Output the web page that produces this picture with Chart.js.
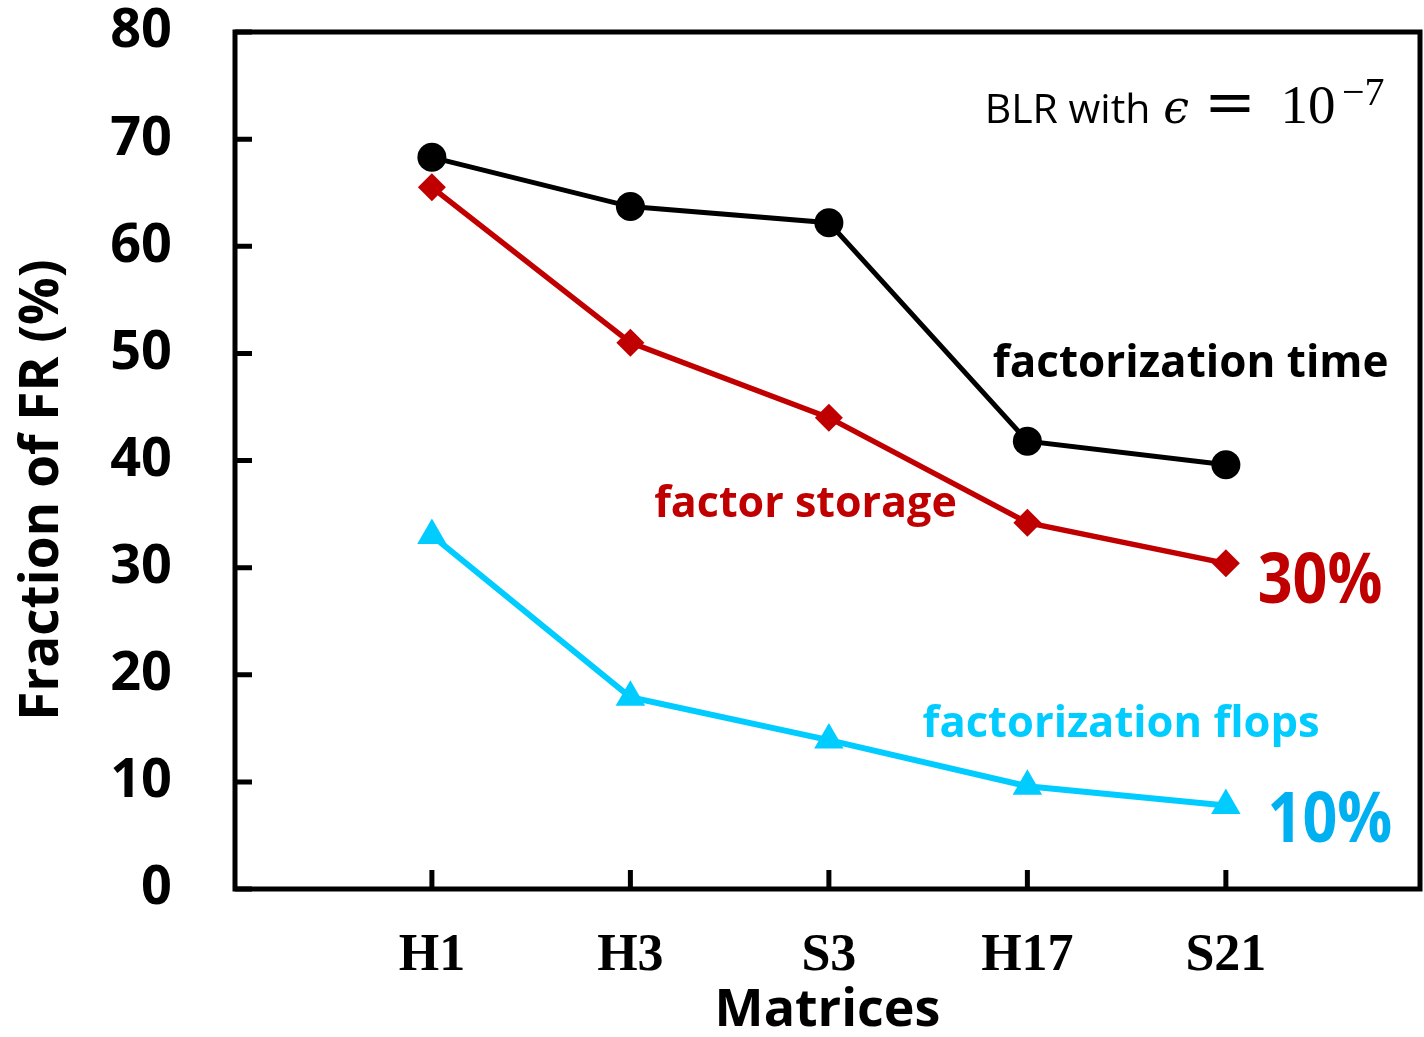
<!DOCTYPE html>
<html>
<head>
<meta charset="utf-8">
<script src="https://cdn.jsdelivr.net/npm/chart.js@4.4.1/dist/chart.umd.min.js"></script>
<style>
  html, body { margin: 0; padding: 0; background: #fff; }
  canvas { display: block; }
</style>
</head>
<body>
<canvas id="fracChart" width="1424" height="1037"></canvas>
<script>
// data
const matrices = ['H1', 'H3', 'S3', 'H17', 'S21'];
const factTime = [68.3, 63.7, 62.2, 41.8, 39.6];
const factStorage = [65.5, 51.0, 44.0, 34.2, 30.4];
const factFlops = [33.0, 17.9, 13.9, 9.6, 7.8];
const yTicks = [0, 10, 20, 30, 40, 50, 60, 70, 80];

const RED = '#C00000';
const CYAN = '#00CCFF';
const SANS = '"Open Sans", Lato, sans-serif';
const SERIF = '"Liberation Serif", "DejaVu Serif", serif';

const toPoints = arr => arr.map((v, i) => ({ x: i + 1, y: v }));

// labels inside the plot, placed in data coordinates
const notes = [
    { text: 'factorization time', x: 3.825, y: 47.8, color: '#000', font: `bold 44px ${SANS}` },
    { text: 'factor storage', x: 2.120, y: 34.7, color: RED, font: `bold 43px ${SANS}` },
    { text: '30%', x: 5.160, y: 26.7, color: RED, font: `bold 61px ${SANS}`, stretch: 1.15 },
    { text: 'factorization flops', x: 3.472, y: 14.2, color: CYAN, font: `bold 43.5px ${SANS}` },
    { text: '10%', x: 5.210, y: 4.4, color: '#00B0F0', font: `bold 61px ${SANS}`, stretch: 1.15 },
    // BLR with eps = 10^-7
    { text: 'BLR with', x: 3.785, y: 71.5, color: '#000', font: `41px ${SANS}` },
    { text: '\u03F5', x: 4.685, y: 71.5, color: '#000', font: 'italic 46px "DejaVu Serif", serif' },
    { text: '=', x: 4.890, y: 71.5, color: '#000', font: '62px "DejaVu Serif", serif' },
    { text: '10', x: 5.275, y: 71.5, color: '#000', font: `55px ${SERIF}` },
    { text: '\u22127', x: 5.585, y: 73.2, color: '#000', font: `40px ${SERIF}` }
];

const framePlugin = {
    id: 'frame',
    afterDraw(chart) {
        const { ctx, chartArea: a, scales } = chart;
        ctx.save();
        ctx.strokeStyle = '#000';
        ctx.lineWidth = 5;
        ctx.strokeRect(a.left, a.top, a.right - a.left, a.bottom - a.top);

        // inward tick marks
        ctx.beginPath();
        yTicks.forEach(v => {
            const py = scales.y.getPixelForValue(v);
            ctx.moveTo(a.left, py);
            ctx.lineTo(a.left + 17, py);
        });
        matrices.forEach((m, i) => {
            const px = scales.x.getPixelForValue(i + 1);
            ctx.moveTo(px, a.bottom);
            ctx.lineTo(px, a.bottom - 19);
        });
        ctx.stroke();

        ctx.textBaseline = 'alphabetic';
        ctx.textAlign = 'left';
        notes.forEach(n => {
            ctx.save();
            ctx.font = n.font;
            ctx.fillStyle = n.color;
            ctx.translate(scales.x.getPixelForValue(n.x), scales.y.getPixelForValue(n.y));
            if (n.stretch) ctx.scale(1, n.stretch);
            ctx.fillText(n.text, 0, 0);
            ctx.restore();
        });

        // y axis title, a little below the plot centre as in the figure
        ctx.translate(43, 490);
        ctx.rotate(-Math.PI / 2);
        ctx.textAlign = 'center';
        ctx.textBaseline = 'middle';
        ctx.fillStyle = '#000';
        ctx.font = `bold 53px ${SANS}`;
        ctx.fillText('Fraction of FR (%)', 0, 0);
        ctx.restore();
    }
};

new Chart(document.getElementById('fracChart').getContext('2d'), {
    type: 'line',
    data: {
        datasets: [
            {
                label: 'factorization time',
                data: toPoints(factTime),
                borderColor: '#000',
                backgroundColor: '#000',
                borderWidth: 5,
                pointStyle: 'circle',
                pointRadius: 14.5,
                pointBorderWidth: 0
            },
            {
                label: 'factor storage',
                data: toPoints(factStorage),
                borderColor: RED,
                backgroundColor: RED,
                borderWidth: 5.5,
                pointStyle: 'rectRot',
                pointRadius: 14,
                pointBorderWidth: 0
            },
            {
                label: 'factorization flops',
                data: toPoints(factFlops),
                borderColor: CYAN,
                backgroundColor: CYAN,
                borderWidth: 6,
                pointStyle: 'triangle',
                pointRadius: 17,
                pointBorderWidth: 0
            }
        ]
    },
    options: {
        responsive: false,
        animation: false,
        layout: { autoPadding: false, padding: { top: 32, right: 4, left: 0, bottom: 0 } },
        plugins: {
            legend: { display: false },
            tooltip: { enabled: false }
        },
        scales: {
            x: {
                type: 'linear',
                min: 0.008,
                max: 5.978,
                afterFit: s => {
                    s.height = 148;
                    s.paddingLeft = 0;
                    s.paddingRight = 0;
                },
                afterBuildTicks: s => { s.ticks = matrices.map((m, i) => ({ value: i + 1 })); },
                grid: { display: false, drawTicks: false },
                border: { display: false },
                ticks: {
                    autoSkip: false,
                    maxRotation: 0,
                    padding: 36,
                    color: '#000',
                    font: { family: SERIF, size: 52, weight: 'bold' },
                    callback: v => matrices[v - 1]
                },
                title: {
                    display: true,
                    text: 'Matrices',
                    color: '#000',
                    padding: { top: 0, bottom: 0 },
                    font: { family: SANS, size: 52, weight: 'bold', lineHeight: 1 }
                }
            },
            y: {
                min: 0,
                max: 80,
                afterFit: s => {
                    s.width = 235;
                    s.paddingTop = 0;
                    s.paddingBottom = 0;
                },
                afterBuildTicks: s => { s.ticks = yTicks.map(v => ({ value: v })); },
                grid: { display: false, drawTicks: false },
                border: { display: false },
                ticks: {
                    padding: 63,
                    color: '#000',
                    font: { family: SANS, size: 54, weight: 'bold' }
                }
            }
        }
    },
    plugins: [framePlugin]
});
</script>
</body>
</html>
